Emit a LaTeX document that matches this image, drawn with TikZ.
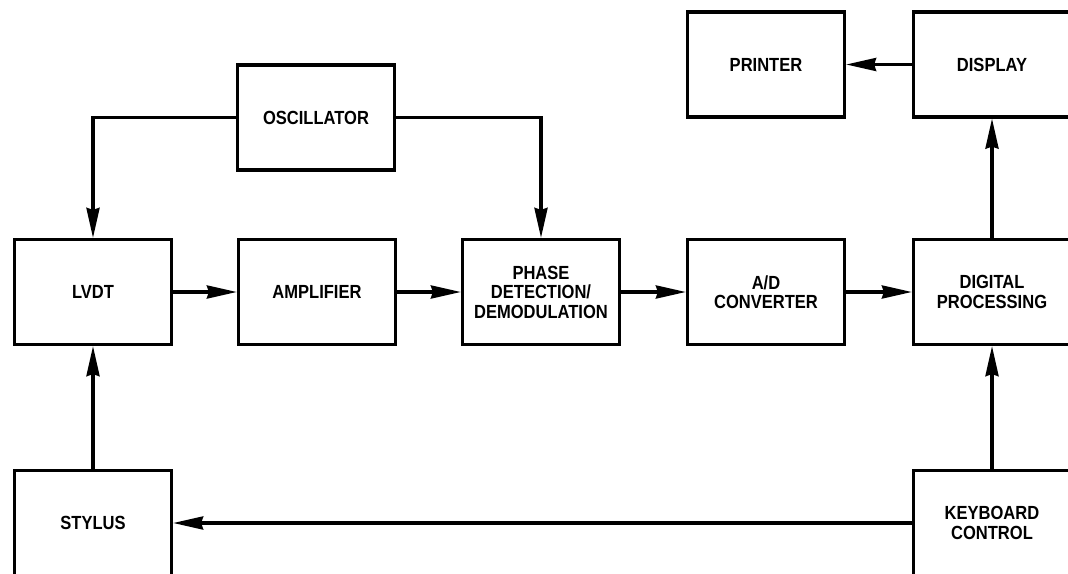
\documentclass[tikz,border=0pt]{standalone}
\usepackage{fontspec}
\setmainfont{Liberation Sans}[FakeStretch=0.87]
\usetikzlibrary{arrows.meta}
\begin{document}
\begin{tikzpicture}[x=1pt,y=-1pt,
  blk/.style={draw, line width=3.2pt, minimum width=157pt, minimum height=105pt, inner sep=0pt, align=center, font=\fontsize{19}{19.5}\selectfont\bfseries},
  conn/.style={line width=3.2pt, -{Stealth[length=30pt,width=13pt,inset=2pt]}}]
\useasboundingbox (0,0) rectangle (1068,573);
\node[blk] (osc) at (316,117.5) {OSCILLATOR};
\node[blk] (prn) at (766,64.5) {PRINTER};
\node[blk] (disp) at (992,64.5) {DISPLAY};
\node[blk] (lvdt) at (93,292) {LVDT};
\node[blk] (amp) at (317,292) {AMPLIFIER};
\node[blk] (phase) at (541,292) {PHASE\\DETECTION/\\DEMODULATION};
\node[blk] (adc) at (766,292) {A/D\\CONVERTER};
\node[blk] (dig) at (992,292) {DIGITAL\\PROCESSING};
\node[blk] (sty) at (93,523) {STYLUS};
\node[blk] (kbd) at (992,523) {KEYBOARD\\CONTROL};
\draw[conn] (osc.west) -| (lvdt.north);
\draw[conn] (osc.east) -| (phase.north);
\draw[conn] (lvdt) -- (amp);
\draw[conn] (amp) -- (phase);
\draw[conn] (phase) -- (adc);
\draw[conn] (adc) -- (dig);
\draw[conn] (dig) -- (disp);
\draw[conn] (disp) -- (prn);
\draw[conn] (kbd) -- (dig);
\draw[conn] (sty) -- (lvdt);
\draw[conn] (kbd) -- (sty);
\end{tikzpicture}
\end{document}
